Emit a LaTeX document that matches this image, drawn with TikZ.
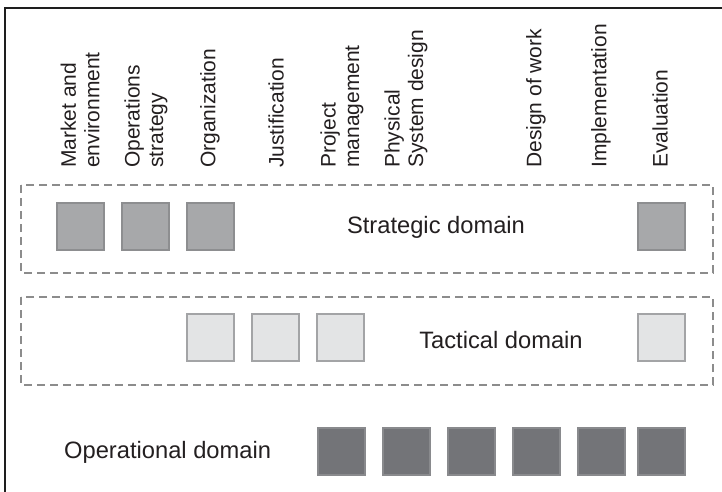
\documentclass[tikz,border=0pt]{standalone}
\usepackage{fontspec}
\setmainfont{Liberation Sans}
\definecolor{ink}{HTML}{231F20}
\definecolor{frameline}{HTML}{1E1E1E}
\definecolor{dashgray}{HTML}{8C8C8C}
\definecolor{stratfill}{HTML}{A7A8AA}
\definecolor{stratline}{HTML}{8D8E90}
\definecolor{tactfill}{HTML}{E3E4E5}
\definecolor{tactline}{HTML}{A3A4A6}
\definecolor{operfill}{HTML}{737478}
\definecolor{operline}{HTML}{898A8D}
\tikzset{
  collabel/.style={rotate=90, anchor=west, align=left, inner sep=0pt,
    font=\fontsize{21}{23.5}\selectfont, text=ink},
  domlabel/.style={inner sep=0pt, font=\fontsize{23.7}{28}\selectfont, text=ink},
  sqbase/.style={rectangle, minimum size=47pt, inner sep=0pt, line width=2pt},
  stratsq/.style={sqbase, fill=stratfill, draw=stratline},
  tactsq/.style={sqbase, fill=tactfill, draw=tactline},
  opersq/.style={sqbase, fill=operfill, draw=operline},
  domainbox/.style={draw=dashgray, line width=1.5pt, dash pattern=on 8pt off 5pt},
  outerframe/.style={draw=frameline, line width=2pt}
}
\begin{document}
\begin{tikzpicture}[x=1pt,y=-1pt]
  \fill[white] (0,0) rectangle (722,491);
  \useasboundingbox (0,0) rectangle (722,491);
  % outer frame (left and top)
  \coordinate (fbl) at (5,492);
  \coordinate (ftl) at (5,8);
  \coordinate (ftr) at (723,8);
  \draw[outerframe] (fbl) -- (ftl) -- (ftr);

  % column labels
  \node[collabel] (lmarket) at (80,168) {Market and\\environment};
  \node[collabel] (lopstrat) at (146,168) {Operations\\strategy};
  \node[collabel] (lorg) at (210,168) {Organization};
  \node[collabel] (ljust) at (276,168) {Justification};
  \node[collabel] (lproj) at (342,168) {Project\\management};
  \node[collabel] (lphys) at (406,168) {Physical\\System design};
  \node[collabel] (ldesign) at (536,168) {Design of work};
  \node[collabel] (limpl) at (601,168) {Implementation};
  \node[collabel] (leval) at (660,168) {Evaluation};

  % domain boxes
  \draw[domainbox] (21,185) rectangle (713,273);
  \draw[domainbox] (21,297) rectangle (713,385);

  % strategic domain
  \node[stratsq] (s1) at (80.5,226.5) {};
  \node[stratsq] (s2) at (145.5,226.5) {};
  \node[stratsq] (s3) at (210.5,226.5) {};
  \node[stratsq] (s4) at (661.5,226.5) {};
  \node[domlabel] (strat) at (436,227) {Strategic domain};

  % tactical domain
  \node[tactsq] (t1) at (210.5,337.5) {};
  \node[tactsq] (t2) at (275.5,337.5) {};
  \node[tactsq] (t3) at (340.5,337.5) {};
  \node[tactsq] (t4) at (661.5,337.5) {};
  \node[domlabel] (tact) at (501,340) {Tactical domain};

  % operational domain
  \node[opersq] (o1) at (341.5,451.5) {};
  \node[opersq] (o2) at (406.5,451.5) {};
  \node[opersq] (o3) at (471.5,451.5) {};
  \node[opersq] (o4) at (536.5,451.5) {};
  \node[opersq] (o5) at (601.5,451.5) {};
  \node[opersq] (o6) at (661.5,451.5) {};
  \node[domlabel, anchor=west] (oper) at (64,452) {Operational domain};
\end{tikzpicture}
\end{document}
